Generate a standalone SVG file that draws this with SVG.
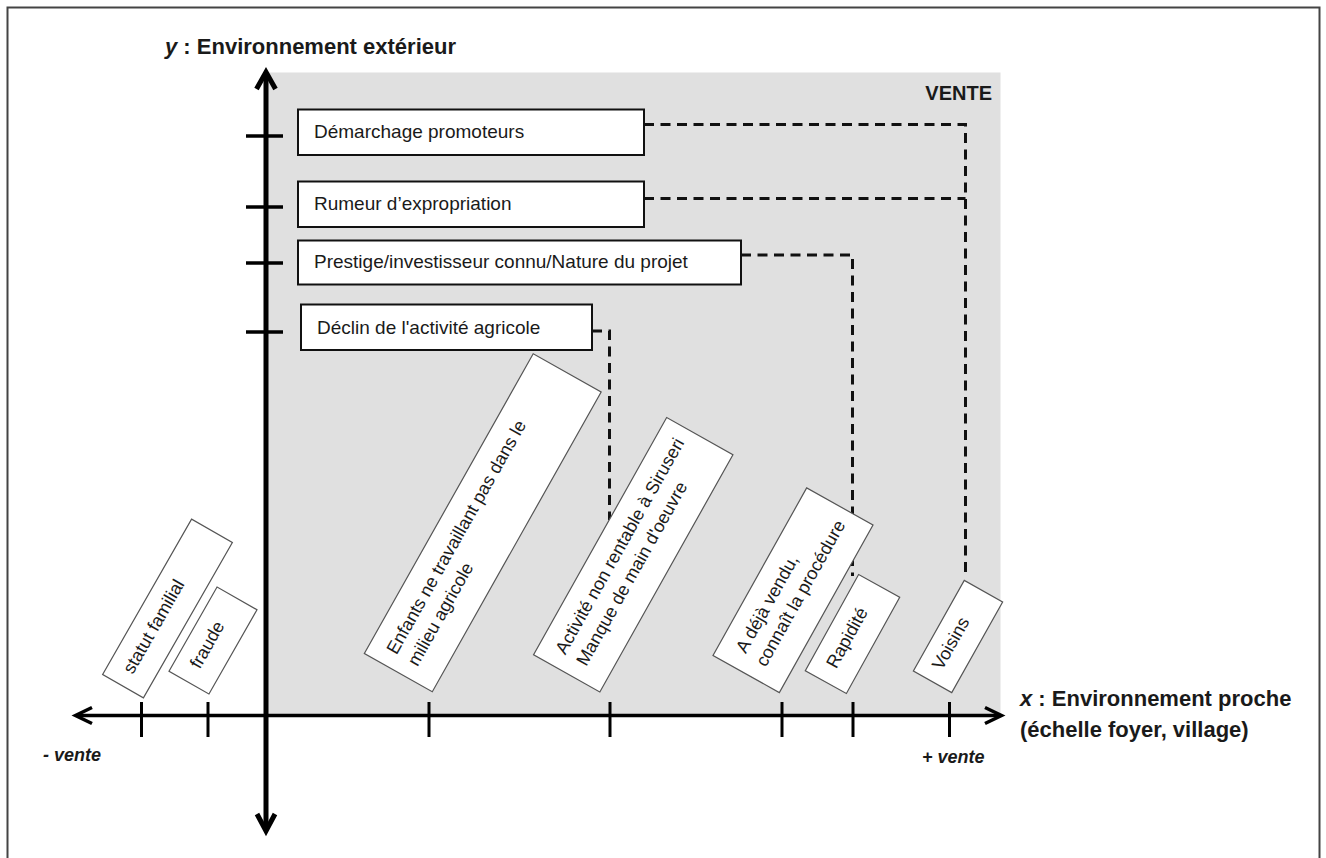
<svg xmlns="http://www.w3.org/2000/svg" width="1326" height="858" viewBox="0 0 1326 858">
<style>
.lbl{font-family:"Liberation Sans",Arial,sans-serif;fill:#1a1a1a}
.bt{font-size:19px}
.rt{font-size:18px}
.ax{font-size:22px;font-weight:bold}
.hbox{fill:#fff;stroke:#111;stroke-width:2}
.rbox{fill:#fff;stroke:#555;stroke-width:1.2}
.dash{fill:none;stroke:#111;stroke-width:3;stroke-dasharray:10 6.5}
.axis{fill:none;stroke:#000;stroke-linecap:butt}
</style>
<rect x="0" y="0" width="1326" height="858" fill="#fff"/>
<rect x="7.5" y="7.5" width="1312" height="900" fill="none" stroke="#444" stroke-width="2"/>
<rect id="vente-zone" x="266" y="72.5" width="734.5" height="642.5" fill="#e0e0e0"/>

<g id="connectors">
  <polyline class="dash" points="644,124.5 965.5,124.5 965.5,578"/>
  <polyline class="dash" points="644,198.5 965.5,198.5"/>
  <polyline class="dash" points="741,255 852.5,255 852.5,576"/>
  <polyline class="dash" points="592,331 609.5,331 609.5,520"/>
</g>

<g id="axes">
  <line class="axis" x1="266" y1="74" x2="266" y2="828" stroke-width="5"/>
  <polyline class="axis" points="256.5,89 266,72 275.5,89" stroke-width="5"/>
  <polyline class="axis" points="257,814 266,831 275,814" stroke-width="5"/>
  <line class="axis" x1="77" y1="715.5" x2="999" y2="715.5" stroke-width="3.5"/>
  <polyline class="axis" points="92,707.5 75.5,715.5 92,723.5" stroke-width="3.5"/>
  <polyline class="axis" points="985,707.5 1001.5,715.5 985,723.5" stroke-width="3.5"/>
  <g stroke="#000" stroke-width="3.5">
    <line x1="246" y1="136" x2="283" y2="136"/>
    <line x1="246" y1="207" x2="283" y2="207"/>
    <line x1="246" y1="263" x2="283" y2="263"/>
    <line x1="246" y1="332" x2="283" y2="332"/>
  </g>
  <g stroke="#000" stroke-width="3">
    <line x1="141.5" y1="702" x2="141.5" y2="737"/>
    <line x1="208" y1="702" x2="208" y2="737"/>
    <line x1="429" y1="702" x2="429" y2="737"/>
    <line x1="610" y1="702" x2="610" y2="737"/>
    <line x1="782" y1="702" x2="782" y2="737"/>
    <line x1="853" y1="702" x2="853" y2="737"/>
    <line x1="949.5" y1="702" x2="949.5" y2="737"/>
  </g>
</g>

<g id="axis-labels" class="lbl">
  <text class="ax" x="165" y="54"><tspan font-style="italic">y</tspan> : Environnement extérieur</text>
  <text class="ax" x="1020" y="706"><tspan font-style="italic">x</tspan> : Environnement proche</text>
  <text class="ax" x="1020" y="737">(échelle foyer, village)</text>
  <text x="992" y="100" text-anchor="end" font-size="20" font-weight="bold">VENTE</text>
  <text x="43" y="761" font-size="18" font-weight="bold" font-style="italic">- vente</text>
  <text x="922" y="763" font-size="18" font-weight="bold" font-style="italic">+ vente</text>
</g>

<g id="demarchage">
  <rect class="hbox" x="298" y="109.5" width="346" height="45.5"/>
  <text class="lbl bt" x="314" y="138">Démarchage promoteurs</text>
</g>
<g id="rumeur">
  <rect class="hbox" x="298" y="181.5" width="346" height="45.5"/>
  <text class="lbl bt" x="314" y="210">Rumeur d’expropriation</text>
</g>
<g id="prestige">
  <rect class="hbox" x="298" y="240.5" width="443" height="44"/>
  <text class="lbl bt" x="314" y="268">Prestige/investisseur connu/Nature du projet</text>
</g>
<g id="declin">
  <rect class="hbox" x="301" y="304.5" width="291" height="45.5"/>
  <text class="lbl bt" x="317" y="334">Déclin de l'activité agricole</text>
</g>

<g id="statut" transform="translate(167.5,608.5) rotate(-60.2)">
  <rect class="rbox" x="-89.5" y="-23.5" width="179" height="47"/>
  <text class="lbl rt" x="-75" y="3">statut familial</text>
</g>
<g id="fraude" transform="translate(213,640.5) rotate(-60.3)">
  <rect class="rbox" x="-48.5" y="-23" width="97" height="46"/>
  <text class="lbl rt" x="-32" y="3">fraude</text>
</g>
<g id="enfants" transform="translate(482.75,522.75) rotate(-60.6)">
  <rect class="rbox" x="-172" y="-39" width="344" height="78"/>
  <text class="lbl rt" x="-158" y="-10">Enfants ne travaillant pas dans le</text>
  <text class="lbl rt" x="-158" y="14">milieu agricole</text>
</g>
<g id="activite" transform="translate(633.25,554.75) rotate(-60.7)">
  <rect class="rbox" x="-136" y="-38" width="272" height="76"/>
  <text class="lbl rt" x="-121" y="-10">Activité non rentable à Siruseri</text>
  <text class="lbl rt" x="-121" y="14">Manque de main d'oeuvre</text>
</g>
<g id="deja-vendu" transform="translate(793,590.25) rotate(-60.8)">
  <rect class="rbox" x="-96" y="-38" width="192" height="76"/>
  <text class="lbl rt" x="-79" y="-10">A déjà vendu,</text>
  <text class="lbl rt" x="-81" y="14">connaît la procédure</text>
</g>
<g id="rapidite" transform="translate(852.5,634) rotate(-61)">
  <rect class="rbox" x="-55" y="-23.5" width="110" height="47"/>
  <text class="lbl rt" x="-39" y="3">Rapidité</text>
</g>
<g id="voisins" transform="translate(958,636.5) rotate(-60.7)">
  <rect class="rbox" x="-52" y="-22" width="104" height="44"/>
  <text class="lbl rt" x="-38" y="3">Voisins</text>
</g>
</svg>
